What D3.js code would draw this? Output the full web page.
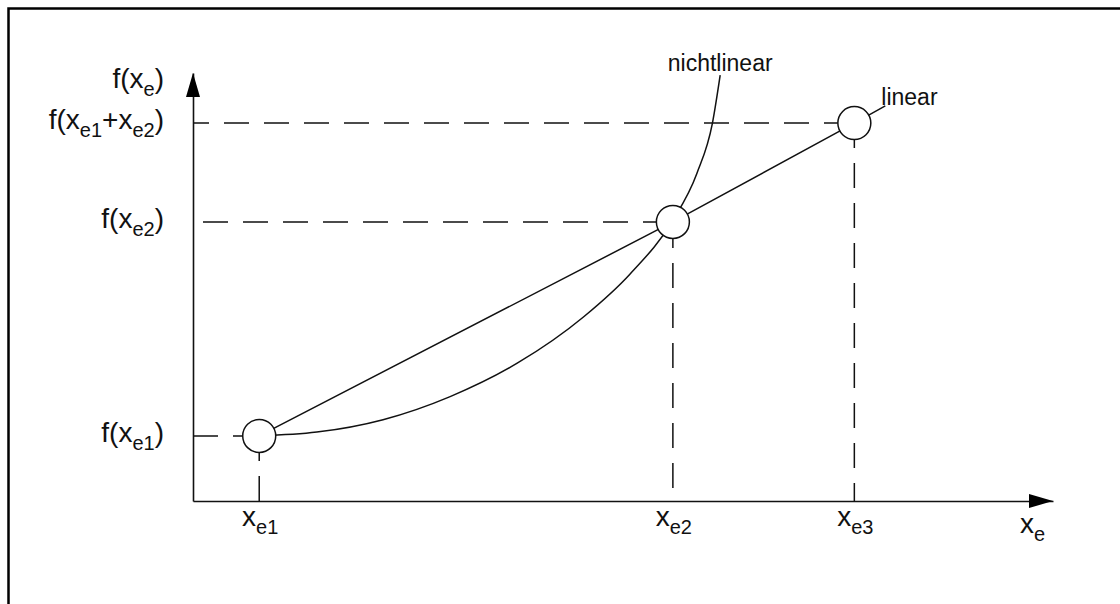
<!DOCTYPE html>
<html>
<head>
<meta charset="utf-8">
<script src="https://cdn.jsdelivr.net/npm/d3@7"></script>
<style>
  body { margin: 0; background: #fff; }
  text { font-family: "Liberation Sans", Arial, sans-serif; fill: #111; }
</style>
</head>
<body>
<div id="my_chart"></div>
<script>
// the three marked points (x_e1, x_e2, x_e3) and their function values
var pointX = [7.7, 55.8, 76.9];
var pointY = [15.2, 65.2, 88.3];

// linear line runs through the points and a little past the last one
var linearX = [7.7, 55.8, 76.9, 80.5];
var linearY = [15.2, 65.2, 88.3, 92.3];

// nonlinear curve
var curveX = [7.7, 14.4, 22.1, 29.9, 37.7, 45.4, 50.8, 55.7, 58.6, 60.4, 61.3];
var curveY = [15.2, 16.1, 19.0, 24.4, 32.2, 43.0, 53.0, 65.3, 76.6, 88.3, 99.5];

// tick labels, split into [text, isSubscript]
var xTickLabels = [
  [["x", 0], ["e1", 1]],
  [["x", 0], ["e2", 1]],
  [["x", 0], ["e3", 1]]
];
var yTickValues = [15.2, 65.2, 88.3];
var yTickLabels = [
  [["f(x", 0], ["e1", 1], [")", 0]],
  [["f(x", 0], ["e2", 1], [")", 0]],
  [["f(x", 0], ["e1", 1], ["+x", 0], ["e2", 1], [")", 0]]
];
var yAxisLabel = [["f(x", 0], ["e", 1], [")", 0]];
var xAxisLabel = [["x", 0], ["e", 1]];

var width = 1120, height = 604;

var svg = d3.select("#my_chart")
  .append("svg")
    .attr("width", width)
    .attr("height", height);

// frame (only left and top edges visible)
svg.append("path")
  .attr("d", "M8.5,604V8.5H1120")
  .attr("fill", "none")
  .attr("stroke", "#000")
  .attr("stroke-width", 2.5);

var x = d3.scaleLinear().domain([0, 100]).range([193, 1053]);
var y = d3.scaleLinear().domain([0, 100]).range([501, 73]);

// axes: just the domain lines, ticks are drawn by hand
svg.append("g")
  .attr("transform", "translate(0," + y(0) + ")")
  .call(d3.axisBottom(x).tickValues([]).tickSizeOuter(0));
svg.append("g")
  .attr("transform", "translate(" + x(0) + ",0)")
  .call(d3.axisLeft(y).tickValues([]).tickSizeOuter(0));
svg.selectAll(".domain").attr("stroke", "#111").attr("stroke-width", 1.6);

// arrow heads
svg.append("path")
  .attr("d", "M" + x(0) + "," + y(100) + "L" + (x(0) - 7) + "," + (y(100) + 24) +
             "L" + (x(0) + 7) + "," + (y(100) + 24) + "Z")
  .attr("fill", "#000");
svg.append("path")
  .attr("d", "M" + x(100) + "," + y(0) + "L" + (x(100) - 24) + "," + (y(0) - 7) +
             "L" + (x(100) - 24) + "," + (y(0) + 7) + "Z")
  .attr("fill", "#000");

var r = 16.5;
var hOffsets = [0, 30, 9];
var vOffsets = [0, 27, 7];

// dashed guides
pointY.forEach(function(v, i) {
  svg.append("line")
    .attr("x1", x(0)).attr("x2", x(pointX[i]) - r)
    .attr("y1", y(v)).attr("y2", y(v))
    .attr("stroke", "#111").attr("stroke-width", 1.5)
    .attr("stroke-dasharray", "25,15")
    .attr("stroke-dashoffset", hOffsets[i]);
  svg.append("line")
    .attr("x1", x(pointX[i])).attr("x2", x(pointX[i]))
    .attr("y1", y(0)).attr("y2", y(v) + r)
    .attr("stroke", "#111").attr("stroke-width", 1.5)
    .attr("stroke-dasharray", "25,15")
    .attr("stroke-dashoffset", vOffsets[i]);
});

// linear line
var lineGen = d3.line()
  .x(function(d) { return x(d[0]); })
  .y(function(d) { return y(d[1]); });
svg.append("path")
  .datum(linearX.map(function(v, i) { return [v, linearY[i]]; }))
  .attr("d", lineGen)
  .attr("fill", "none")
  .attr("stroke", "#111")
  .attr("stroke-width", 1.5);

// nonlinear curve
svg.append("path")
  .datum(curveX.map(function(v, i) { return [v, curveY[i]]; }))
  .attr("d", lineGen.curve(d3.curveMonotoneX))
  .attr("fill", "none")
  .attr("stroke", "#111")
  .attr("stroke-width", 1.5);

// circles
svg.selectAll("circle.pt")
  .data(pointX)
  .enter()
  .append("circle")
    .attr("class", "pt")
    .attr("cx", function(d) { return x(d); })
    .attr("cy", function(d, i) { return y(pointY[i]); })
    .attr("r", r)
    .attr("fill", "#fff")
    .attr("stroke", "#111")
    .attr("stroke-width", 1.5);

// text with subscripts
function richText(g, parts, size, subSize) {
  var t = g.append("text").attr("font-size", size);
  var shifted = false;
  parts.forEach(function(p) {
    var s = t.append("tspan").text(p[0]);
    if (p[1]) {
      s.attr("font-size", subSize);
      if (!shifted) s.attr("dy", 8);
      shifted = true;
    } else {
      if (shifted) s.attr("dy", -8);
      shifted = false;
    }
  });
  return t;
}

yTickValues.forEach(function(v, i) {
  richText(svg, yTickLabels[i], 28, 20)
    .attr("x", 164).attr("y", y(v) + 6)
    .attr("text-anchor", "end");
});
richText(svg, yAxisLabel, 28, 20)
  .attr("x", 164).attr("y", y(100) + 15)
  .attr("text-anchor", "end");

pointX.forEach(function(v, i) {
  richText(svg, xTickLabels[i], 28, 20)
    .attr("x", x(v) + 1).attr("y", y(0) + 25)
    .attr("text-anchor", "middle");
});
richText(svg, xAxisLabel, 28, 20)
  .attr("x", x(100) - 8).attr("y", y(0) + 32)
  .attr("text-anchor", "end");

// curve labels
svg.append("text")
  .attr("x", x(curveX[curveX.length - 1]))
  .attr("y", y(curveY[curveY.length - 1]) - 4)
  .attr("text-anchor", "middle")
  .attr("font-size", 23)
  .text("nichtlinear");
svg.append("text")
  .attr("x", x(linearX[linearX.length - 1]) - 4)
  .attr("y", y(linearY[linearY.length - 1]) - 1)
  .attr("font-size", 23)
  .text("linear");
</script>
</body>
</html>
